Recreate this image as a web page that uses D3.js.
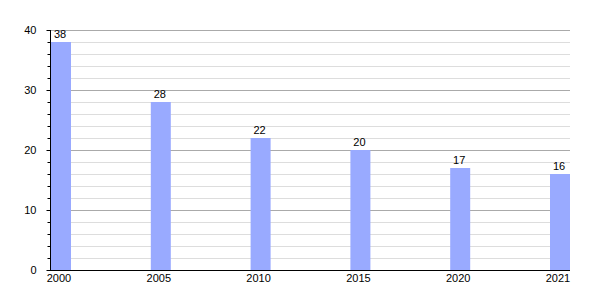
<!DOCTYPE html>
<html>
<head>
<meta charset="utf-8">
<script src="https://cdn.jsdelivr.net/npm/d3@7"></script>
<style>
  body { margin: 0; background: #fff; }
  svg text { font-family: "Liberation Sans", Arial, sans-serif; font-size: 11px; fill: #000; }
</style>
</head>
<body>
<svg id="chart" width="600" height="300"></svg>
<script>
const years = ["2000", "2005", "2010", "2015", "2020", "2021"];
const values = [38, 28, 22, 20, 17, 16];
const yTicks = [0, 10, 20, 30, 40];

const mLeft = 50, mRight = 570, mTop = 30, mBottom = 270;
const barW = 20;

const svg = d3.select("#chart");

const x = d3.scalePoint().domain(years).range([mLeft + 1, mRight - barW]);
const y = d3.scaleLinear().domain([0, 40]).range([mBottom, mTop]);

// minor grid every 2
const minor = d3.range(0, 41, 2).filter(v => v % 10 !== 0);
svg.append("g").selectAll("line").data(minor).enter().append("line")
  .attr("x1", mLeft).attr("x2", mRight)
  .attr("y1", d => y(d) + 0.5).attr("y2", d => y(d) + 0.5)
  .attr("stroke", "#dddddd");

svg.append("g").selectAll("line").data(yTicks.filter(d => d > 0)).enter().append("line")
  .attr("x1", mLeft).attr("x2", mRight)
  .attr("y1", d => y(d) + 0.5).attr("y2", d => y(d) + 0.5)
  .attr("stroke", "#aaaaaa");

// bars
svg.append("g").selectAll("rect").data(values).enter().append("rect")
  .attr("x", (d, i) => x(years[i]))
  .attr("y", d => y(d))
  .attr("width", barW)
  .attr("height", d => y(0) - y(d))
  .attr("fill", "#99aaff");

// value labels
svg.append("g").selectAll("text").data(values).enter().append("text")
  .attr("x", (d, i) => x(years[i]) + barW / 2 - 1)
  .attr("y", d => y(d) - 4)
  .attr("text-anchor", "middle")
  .text(d => d);

// y axis
const yAxis = svg.append("g").attr("transform", `translate(${mLeft + 0.5},0)`);
yAxis.append("line").attr("y1", mTop).attr("y2", mBottom).attr("stroke", "#000");
yAxis.selectAll(".minor").data(minor).enter().append("line")
  .attr("x1", -3).attr("x2", 0)
  .attr("y1", d => y(d) + 0.5).attr("y2", d => y(d) + 0.5)
  .attr("stroke", "#000");
yAxis.selectAll(".major").data(yTicks).enter().append("line")
  .attr("x1", -4).attr("x2", 0)
  .attr("y1", d => y(d) + 0.5).attr("y2", d => y(d) + 0.5)
  .attr("stroke", "#000");
yAxis.selectAll("text").data(yTicks).enter().append("text")
  .attr("x", -14)
  .attr("y", d => y(d) + 4)
  .attr("text-anchor", "end")
  .text(d => d);

// x axis
svg.append("line")
  .attr("x1", mLeft).attr("x2", mRight)
  .attr("y1", mBottom + 0.5).attr("y2", mBottom + 0.5)
  .attr("stroke", "#000");
svg.append("g").selectAll("text").data(years).enter().append("text")
  .attr("x", d => x(d) + barW / 2 - 2)
  .attr("y", mBottom + 12)
  .attr("text-anchor", "middle")
  .text(d => d);
</script>
</body>
</html>
